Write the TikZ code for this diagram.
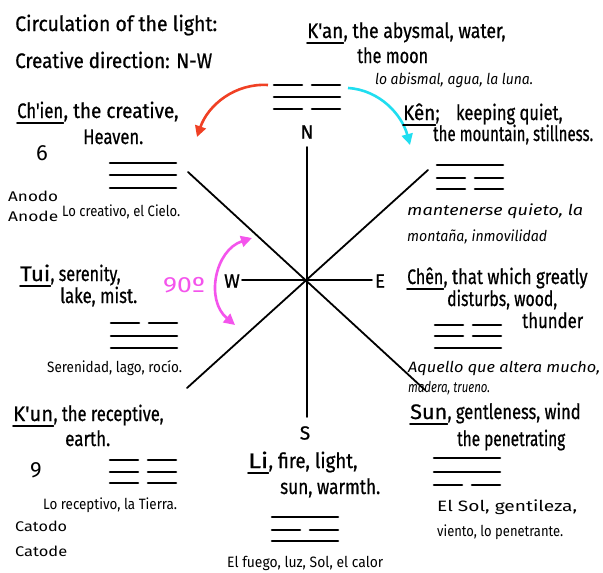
\documentclass[tikz,border=0pt]{standalone}
\usepackage{fontspec}
\setmainfont{Fira Sans}
\newfontfamily\handf{Fira Sans}[FakeBold=0.7]
\usepackage{graphicx}
\usetikzlibrary{arrows.meta}
\definecolor{arrred}{RGB}{240,64,36}
\definecolor{arrcyan}{RGB}{32,222,240}
\definecolor{arrmag}{RGB}{244,84,236}
\newlength\fitlen
\newcommand\fitto[2]{\settowidth\fitlen{#2}\scalebox{\fpeval{(#1)/(\the\fitlen)}}[1]{#2}}
\tikzset{
  en/.style={font=\handf\fontsize{21}{23}\selectfont, inner sep=0pt, anchor=base west},
  es/.style={font=\itshape\fontsize{15}{17}\selectfont, inner sep=0pt, anchor=base west},
  esu/.style={font=\fontsize{15}{17}\selectfont, inner sep=0pt, anchor=base west},
  lbl/.style={font=\fontsize{14}{16}\selectfont, inner sep=0pt, anchor=base west},
  num/.style={font=\fontsize{22}{24}\selectfont, inner sep=0pt},
  dir/.style={font=\handf\fontsize{19}{21}\selectfont, inner sep=0pt},
  ul/.style={line width=1.6pt, line cap=round},
  axis/.style={line width=1.8pt, line cap=round},
  tri/.style={line width=2.6pt, line cap=round},
  curv/.style={line width=2.6pt, -{Triangle[length=11pt,width=11pt]}},
}
\newcommand\tln[3]{\ifnum#3=1 \draw[tri] ({#1-33},#2) -- ({#1+33},#2);\else\draw[tri] ({#1-33},#2) -- ({#1-5},#2); \draw[tri] ({#1+5},#2) -- ({#1+33},#2);\fi}
\newcommand\trig[7]{\tln{#1}{#2}{#5}\tln{#1}{#3}{#6}\tln{#1}{#4}{#7}}
\begin{document}
\begin{tikzpicture}[x=1pt,y=-1pt]
\useasboundingbox[fill=white] (0,0) rectangle (603,573);
% compass
\coordinate (O) at (307,280);
\coordinate (nE) at (307,147);
\coordinate (sE) at (307,417);
\coordinate (wE) at (242,280);
\coordinate (eE) at (372,280);
\coordinate (nwE) at (188,172);
\coordinate (neE) at (428,170);
\coordinate (swE) at (187,388);
\coordinate (seE) at (425,390);
\draw[axis] (nE) -- (sE);
\draw[axis] (wE) -- (eE);
\draw[axis] (nwE) -- (seE);
\draw[axis] (neE) -- (swE);
\node[dir] (N) at (307,132) {N};
\node[dir] (S) at (305,433) {S};
\node[dir] (W) at (232,281) {W};
\node[dir] (E) at (380,281) {E};
% trigrams
\trig{143}{163}{175}{188}{1}{1}{1}
\trig{307}{85}{97}{109}{0}{1}{0}
\trig{470}{165}{178}{189}{1}{0}{0}
\trig{144}{323}{336}{348}{0}{1}{1}
\trig{468}{325}{336}{348}{0}{0}{1}
\trig{143}{460}{472}{483}{0}{0}{0}
\trig{305}{517}{530}{541}{1}{0}{1}
\trig{467}{458}{472}{485}{1}{1}{0}
% arrows
\coordinate (r1) at (268,85);
\coordinate (r2) at (197,137);
\draw[curv, arrred] (r1) .. controls (235,83) and (208,105) .. (r2);
\coordinate (c1) at (348,88);
\coordinate (c2) at (410,145);
\draw[curv, arrcyan] (c1) .. controls (380,90) and (402,115) .. (c2);
\coordinate (m1) at (252,238);
\coordinate (m2) at (235,325);
\draw[line width=2.6pt, arrmag, {Triangle[length=11pt,width=11pt]}-{Triangle[length=11pt,width=11pt]}] (m1) .. controls (215,250) and (205,300) .. (m2);
\node[num, arrmag, anchor=base west] (deg) at (163,292) {\fitto{42}{90º}};
% titles
\node[en] (t1) at (15,31) {\fitto{202}{Circulation of the light:}};
\node[en] (t2) at (15,68) {\fitto{197}{Creative direction: N-W}};
% K'an
\node[en] (kan) at (307,38) {\fitto{36}{K'an}};
\node[en] (kanb) at (kan.base east) {\fitto{162}{, the abysmal, water,}};
\draw[ul] ([yshift=-5pt]kan.base west) -- ([yshift=-5pt]kan.base east);
\node[en] (kanc) at (357,63) {\fitto{71}{the moon}};
\node[es] (kand) at (375,84) {\fitto{158}{lo abismal, agua, la luna.}};
% Ch'ien
\node[en] (chien) at (17,118) {\fitto{46}{Ch'ien}};
\node[en] (chienb) at (chien.base east) {\fitto{115}{, the creative,}};
\draw[ul] ([yshift=-5pt]chien.base west) -- ([yshift=-5pt]chien.base east);
\node[en] (chienc) at (83,144) {\fitto{60}{Heaven.}};
\node[num] (six) at (42,153) {6};
\node[lbl] (an1) at (8,201) {\fitto{50}{Anodo}};
\node[lbl] (an2) at (8,221) {\fitto{50}{Anode}};
\node[esu] (chiend) at (62,216) {\fitto{118}{Lo creativo, el Cielo.}};
% Ken
\node[en] (ken) at (403,120) {\fitto{32}{Kên}};
\node[en] (kenb) at (ken.base east) {\fitto{127}{;\quad keeping quiet,}};
\draw[ul] ([yshift=-5pt]ken.base west) -- ([yshift=-5pt]ken.base east);
\node[en] (kenc) at (433,141) {\fitto{160}{the mountain, stillness.}};
\node[es] (kend) at (407,215) {\fitto{176}{mantenerse quieto, la}};
\node[es] (kene) at (407,241) {\fitto{140}{montaña, inmovilidad}};
% Tui
\node[en] (tui) at (20,281) {\fitto{30}{Tui}};
\node[en] (tuib) at (tui.base east) {\fitto{70}{, serenity,}};
\draw[ul] ([yshift=-5pt]tui.base west) -- ([yshift=-5pt]tui.base east);
\node[en] (tuic) at (60,303) {\fitto{77}{lake, mist.}};
\node[esu] (tuid) at (47,372) {\fitto{135}{Serenidad, lago, rocío.}};
% Chen
\node[en] (chen) at (407,284) {\fitto{36}{Chên}};
\node[en] (chenb) at (chen.base east) {\fitto{144}{, that which greatly}};
\draw[ul] ([yshift=-5pt]chen.base west) -- ([yshift=-5pt]chen.base east);
\node[en] (chenc) at (447,306) {\fitto{110}{disturbs, wood,}};
\node[en] (chend) at (522,328) {\fitto{61}{thunder}};
\node[es] (chene) at (408,372) {\fitto{192}{Aquello que altera mucho,}};
\node[es] (chenf) at (408,392) {\fitto{82}{madera, trueno.}};
% K'un
\node[en] (kun) at (13,421) {\fitto{40}{K'un}};
\node[en] (kunb) at (kun.base east) {\fitto{110}{, the receptive,}};
\draw[ul] ([yshift=-5pt]kun.base west) -- ([yshift=-5pt]kun.base east);
\node[en] (kunc) at (65,446) {\fitto{45}{earth.}};
\node[num] (nine) at (36,470) {9};
\node[esu] (kund) at (43,509) {\fitto{134}{Lo receptivo, la Tierra.}};
\node[lbl] (ca1) at (15,531) {\fitto{52}{Catodo}};
\node[lbl] (ca2) at (15,556) {\fitto{52}{Catode}};
% Li
\node[en] (li) at (248,468) {\fitto{20}{Li}};
\node[en] (lib) at (li.base east) {\fitto{89}{, fire, light,}};
\draw[ul] ([yshift=-5pt]li.base west) -- ([yshift=-5pt]li.base east);
\node[en] (lic) at (280,494) {\fitto{100}{sun, warmth.}};
\node[esu] (lid) at (227,567) {\fitto{156}{El fuego, luz, Sol, el calor}};
% Sun
\node[en] (sun) at (410,419) {\fitto{37}{Sun}};
\node[en] (sunb) at (sun.base east) {\fitto{133}{, gentleness, wind}};
\draw[ul] ([yshift=-5pt]sun.base west) -- ([yshift=-5pt]sun.base east);
\node[en] (sunc) at (457,446) {\fitto{108}{the penetrating}};
\node[esu] (sund) at (437,511) {\fitto{140}{El Sol, gentileza,}};
\node[esu] (sune) at (437,536) {\fitto{126}{viento, lo penetrante.}};
\end{tikzpicture}
\end{document}
